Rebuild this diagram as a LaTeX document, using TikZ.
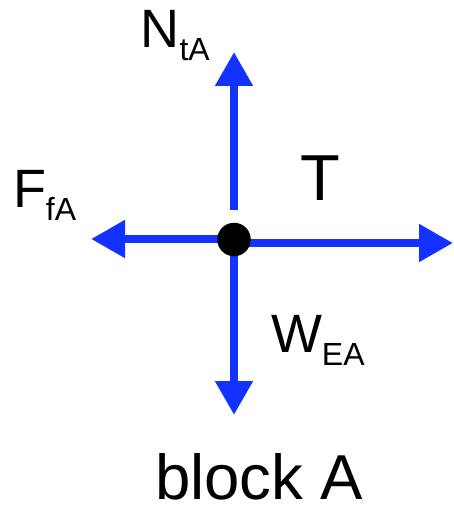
\documentclass[tikz,border=0pt]{standalone}
\usepackage{fontspec}
\setmainfont{Liberation Sans}
\usetikzlibrary{arrows.meta,backgrounds}
\definecolor{forceblue}{RGB}{20,50,255}
\newcommand{\biglab}[2]{{\fontsize{54}{54}\selectfont #1}\raisebox{-13pt}{\fontsize{32}{32}\selectfont #2}}
\begin{document}
\begin{tikzpicture}[x=1pt,y=-1pt,
  force/.style={draw=forceblue,line width=8pt,-{Triangle[length=34pt,width=36pt]}},
  lbl/.style={anchor=base west,inner sep=0pt,outer sep=0pt},
  dotnode/.style={circle,fill=black,minimum size=33.5pt,inner sep=0pt}]
\useasboundingbox (0,0) rectangle (453,510);
\node[dotnode] (c) at (234,239.5) {};
\coordinate (upS) at (234,210);
\coordinate (upT) at (234,52);
\coordinate (leftT) at (91,239);
\coordinate (rightS) at (240,243);
\coordinate (rightT) at (453,243);
\coordinate (downT) at (234,415);
\begin{scope}[on background layer]
\draw[force] (upS) -- (upT);
\draw[force] (c.center |- leftT) -- (leftT);
\draw[force] (rightS) -- (rightT);
\draw[force] (c.center) -- (downT);
\end{scope}
\node[lbl] (n) at (140.5,48) {\biglab{N}{tA}};
\node[lbl] (f) at (13,208) {\biglab{F}{fA}};
\node[lbl] (w) at (271,352) {\biglab{W}{EA}};
\node[lbl] (t) at (300.5,201) {\fontsize{65}{65}\selectfont T};
\node[lbl,text depth=0pt] (b) at (155,499) {\fontsize{63.5}{63.5}\selectfont block A};
\end{tikzpicture}
\end{document}
